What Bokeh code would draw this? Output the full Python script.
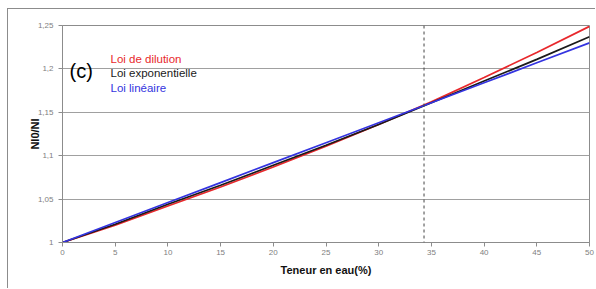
from bokeh.plotting import figure
from bokeh.models import FixedTicker, Span, Label
from bokeh.embed import file_html
from bokeh.resources import INLINE

# Data
teneur = [0, 5, 10, 15, 20, 25, 30, 35, 40, 45, 50]
loi_dilution = [1.000, 1.020, 1.042, 1.064, 1.087, 1.111, 1.136, 1.162, 1.190, 1.219, 1.249]
loi_exponentielle = [1.000, 1.021, 1.044, 1.066, 1.089, 1.112, 1.136, 1.161, 1.186, 1.211, 1.237]
loi_lineaire = [1.000, 1.023, 1.046, 1.069, 1.092, 1.115, 1.138, 1.161, 1.184, 1.207, 1.230]
x_ticks = [0, 5, 10, 15, 20, 25, 30, 35, 40, 45, 50]
y_ticks = [1.0, 1.05, 1.1, 1.15, 1.2, 1.25]
y_tick_labels = ["1", "1,05", "1,1", "1,15", "1,2", "1,25"]
seuil = 34.3
legend_names = ["Loi de dilution", "Loi exponentielle", "Loi linéaire"]
colors = ["#e8282c", "#1a1a1a", "#3434e0"]

FONT = "Liberation Sans"

p = figure(width=588, height=280, output_backend="svg", toolbar_location=None,
           x_range=(0, 50), y_range=(1.0, 1.25),
           min_border_left=54, min_border_right=7, min_border_top=16, min_border_bottom=47)
p.styles = {"margin-left": "7px", "margin-top": "8px",
            "border-left": "1px solid #8c8c8c", "border-top": "1px solid #8c8c8c"}
p.background_fill_color = "white"
p.border_fill_color = "white"
p.outline_line_color = "#8c8c8c"
p.outline_line_width = 1

p.xgrid.grid_line_color = None
p.ygrid.grid_line_color = "#a0a0a0"
p.ygrid.grid_line_width = 1

for ax in (p.xaxis[0], p.yaxis[0]):
    ax.axis_line_color = "#8c8c8c"
    ax.major_tick_line_color = "#8c8c8c"
    ax.major_tick_out = 4
    ax.major_tick_in = 0
    ax.minor_tick_line_color = None
    ax.major_label_text_font = FONT
    ax.major_label_text_font_size = "8px"
    ax.major_label_text_color = "#808080"
    ax.axis_label_text_font = FONT
    ax.axis_label_text_font_style = "bold"
    ax.axis_label_text_font_size = "11px"
    ax.axis_label_text_color = "#111111"

p.xaxis.ticker = FixedTicker(ticks=x_ticks)
p.yaxis.ticker = FixedTicker(ticks=y_ticks)
p.yaxis.major_label_overrides = {t: l for t, l in zip(y_ticks, y_tick_labels)}
p.xaxis.axis_label = "Teneur en eau(%)"
p.yaxis.axis_label = "NI0/NI"
p.xaxis.axis_label_standoff = 6
p.yaxis.axis_label_standoff = -6
p.xaxis.major_label_standoff = 3
p.yaxis.major_label_standoff = 5

p.line(teneur, loi_dilution, line_color=colors[0], line_width=1.7)
p.line(teneur, loi_exponentielle, line_color=colors[1], line_width=1.7)
p.line(teneur, loi_lineaire, line_color=colors[2], line_width=1.7)

p.add_layout(Span(location=seuil, dimension="height", line_color="#444444",
                  line_dash="3 3", line_width=1))

p.add_layout(Label(x=7, y=172, x_units="screen", y_units="screen", text="(c)",
                   text_font=FONT, text_font_size="20px", text_color="black",
                   text_baseline="middle"))
for i, (name, c) in enumerate(zip(legend_names, colors)):
    p.add_layout(Label(x=48, y=184 - i * 14.5, x_units="screen", y_units="screen",
                       text=name, text_font=FONT, text_font_size="11.5px",
                       text_color=c, text_baseline="middle"))

open("out.html", "w").write(file_html(p, INLINE))
